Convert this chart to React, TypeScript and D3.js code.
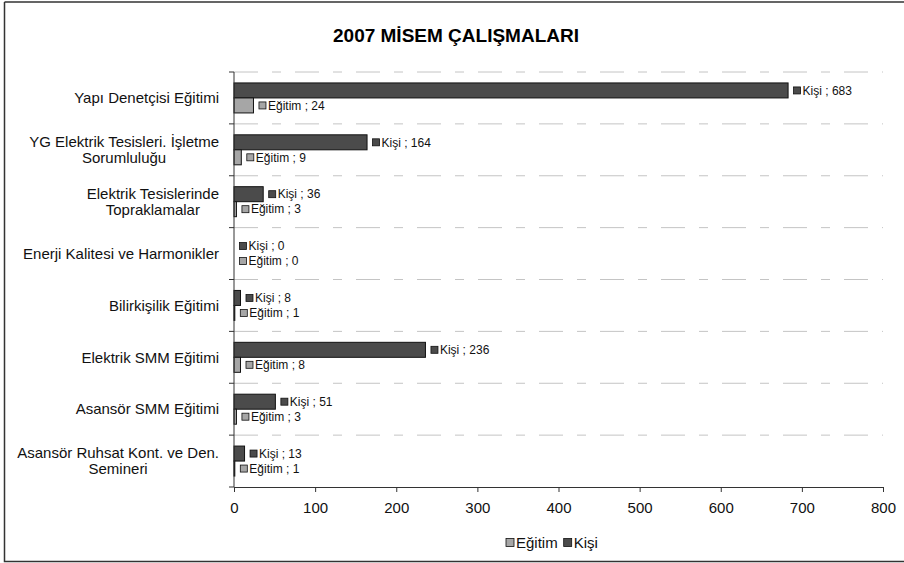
import React, { useRef, useEffect } from 'react';
import * as d3 from 'd3';

const title = '2007 MİSEM ÇALIŞMALARI';

const categories: string[][] = [
    ['Yapı Denetçisi Eğitimi'],
    ['YG Elektrik Tesisleri. İşletme', 'Sorumluluğu'],
    ['Elektrik Tesislerinde', 'Topraklamalar'],
    ['Enerji Kalitesi ve Harmonikler'],
    ['Bilirkişilik Eğitimi'],
    ['Elektrik SMM Eğitimi'],
    ['Asansör SMM Eğitimi'],
    ['Asansör Ruhsat Kont. ve Den.', 'Semineri'],
];

const kisi = [683, 164, 36, 0, 8, 236, 51, 13];
const egitim = [24, 9, 3, 0, 1, 8, 3, 1];

const xTicks = [0, 100, 200, 300, 400, 500, 600, 700, 800];

const seriesNames = ['Eğitim', 'Kişi'];

const App: React.FC = () => {
    const svgRef = useRef<SVGSVGElement | null>(null);
    const width = 904;
    const height = 563;

    useEffect(() => {
        document.body.style.margin = '0';
        if (!svgRef.current) return;
        const svg = d3.select(svgRef.current);
        svg.selectAll('*').remove();

        const font = 'Arial, "Liberation Sans", sans-serif';
        const colors: Record<string, string> = { 'Eğitim': '#a6a6a6', 'Kişi': '#4b4b4b' };

        const left = 234;
        const right = 883;
        const top = 72;
        const bottom = 487;

        // frame
        svg.append('rect').attr('x', 0).attr('y', 0).attr('width', width).attr('height', height).attr('fill', '#fff');
        svg.append('path')
            .attr('d', `M4.5,2 H904 M4.5,2 V561.5 H904`)
            .attr('fill', 'none')
            .attr('stroke', '#333')
            .attr('stroke-width', 1.5);

        svg.append('text')
            .attr('x', 456)
            .attr('y', 42)
            .attr('text-anchor', 'middle')
            .attr('font-family', font)
            .attr('font-weight', 'bold')
            .attr('font-size', 19)
            .text(title);

        const x = d3.scaleLinear().domain([0, 800]).range([left, right]);
        const y = d3.scaleBand<number>()
            .domain(d3.range(categories.length))
            .range([top, bottom]);
        const band = y.bandwidth();
        const barH = 15;

        // gridlines at category boundaries
        const bounds = d3.range(categories.length).map((i) => y(i) as number);
        svg.append('g')
            .selectAll('line')
            .data(bounds)
            .join('line')
            .attr('x1', left)
            .attr('x2', right)
            .attr('y1', (d) => d)
            .attr('y2', (d) => d)
            .attr('stroke', '#c4c4c4')
            .attr('stroke-width', 1)
            .attr('stroke-dasharray', '24,14,9,14');

        // bars
        const g = svg.append('g');
        categories.forEach((_, i) => {
            const c = (y(i) as number) + band / 2;
            const rows = [
                { name: 'Kişi', v: kisi[i], y0: c - barH },
                { name: 'Eğitim', v: egitim[i], y0: c },
            ];
            rows.forEach((r) => {
                if (r.v > 0) {
                    g.append('rect')
                        .attr('x', x(0))
                        .attr('y', r.y0)
                        .attr('width', x(r.v) - x(0))
                        .attr('height', barH)
                        .attr('fill', colors[r.name])
                        .attr('stroke', '#111')
                        .attr('stroke-width', 1);
                }
                const ex = x(r.v);
                const cy = r.y0 + barH / 2;
                g.append('rect')
                    .attr('x', ex + 5.5)
                    .attr('y', cy - 3.5)
                    .attr('width', 7)
                    .attr('height', 7)
                    .attr('fill', colors[r.name])
                    .attr('stroke', '#111')
                    .attr('stroke-width', 0.8);
                g.append('text')
                    .attr('x', ex + 14.5)
                    .attr('y', cy)
                    .attr('dy', '0.35em')
                    .attr('font-family', font)
                    .attr('font-size', 12)
                    .attr('fill', '#111')
                    .text(`${r.name} ; ${r.v}`);
            });
        });

        // y axis
        const ya = svg.append('g').attr('stroke', '#333');
        ya.append('line').attr('x1', left).attr('x2', left).attr('y1', top).attr('y2', bottom);
        [...bounds, bottom].forEach((b) => {
            ya.append('line').attr('x1', left - 5).attr('x2', left).attr('y1', b).attr('y2', b);
        });

        // category labels
        categories.forEach((lines, i) => {
            const c = (y(i) as number) + band / 2;
            const lh = 16;
            const t = svg.append('text')
                .attr('font-family', font)
                .attr('font-size', 15)
                .attr('fill', '#111')
                .attr('text-anchor', 'middle');
            lines.forEach((ln, k) => {
                t.append('tspan')
                    .attr('x', 0)
                    .attr('y', c + (k - (lines.length - 1) / 2) * lh)
                    .attr('dy', '0.35em')
                    .text(ln);
            });
            const w = (t.node() as SVGTextElement).getBBox().width;
            t.selectAll('tspan').attr('x', 219 - w / 2);
        });

        // x axis
        const xa = svg.append('g').attr('transform', `translate(0,${bottom})`).call(
            d3.axisBottom(x).tickValues(xTicks).tickSize(5).tickSizeOuter(0).tickPadding(10)
        );
        xa.select('.domain').attr('stroke', '#333');
        xa.selectAll('.tick line').attr('stroke', '#333');
        xa.selectAll('.tick text')
            .attr('font-family', font)
            .attr('font-size', 15)
            .attr('fill', '#111');

        // legend
        const lg = svg.append('g');
        let lx = 506;
        seriesNames.forEach((n) => {
            lg.append('rect')
                .attr('x', lx)
                .attr('y', 538.5)
                .attr('width', 8)
                .attr('height', 8)
                .attr('fill', colors[n])
                .attr('stroke', '#111')
                .attr('stroke-width', 0.8);
            const t = lg.append('text')
                .attr('x', lx + 10)
                .attr('y', 542.5)
                .attr('dy', '0.35em')
                .attr('font-family', font)
                .attr('font-size', 15)
                .attr('fill', '#111')
                .text(n);
            lx += 10 + (t.node() as SVGTextElement).getComputedTextLength() + 6;
        });
    }, []);

    return <svg ref={svgRef} width={width} height={height} style={{ display: 'block' }} />;
};

export default App;
